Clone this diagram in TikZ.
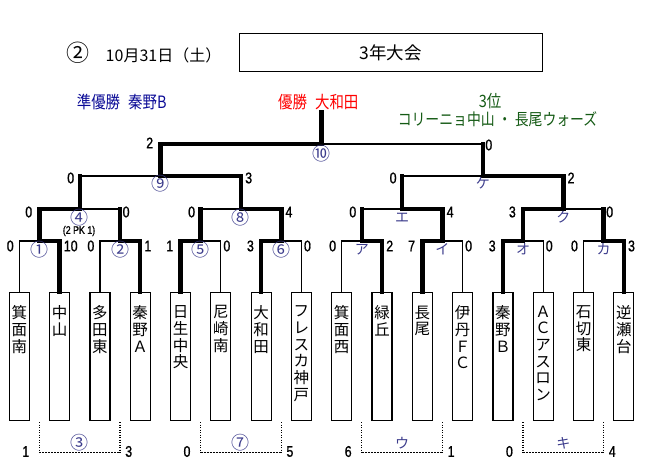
\documentclass[tikz,border=0pt]{standalone}
\usepackage{fontspec}
\usepackage{tikz}
\newfontfamily\jp{Noto Sans CJK JP}
\newfontfamily\jpn[FakeStretch=0.85]{Noto Sans CJK JP}
\newfontfamily\num[FakeStretch=0.8,FakeBold=1]{Liberation Sans}
\definecolor{navyc}{RGB}{10,10,150}
\definecolor{greenc}{RGB}{20,90,20}
\definecolor{labc}{RGB}{60,60,140}

\begin{document}
\begin{tikzpicture}[x=1pt,y=-1pt,
  box/.style={draw,line width=1.2pt,minimum width=20pt,minimum height=128pt,inner sep=0pt,anchor=north},
  team/.style={font=\jp\fontsize{15.5}{16.7}\selectfont,align=center,inner sep=0pt,anchor=north},
  winline/.style={line width=4.5pt,line cap=rect},
  loseline/.style={line width=1.2pt},
  scL/.style={font=\num\fontsize{15.5}{15.5}\selectfont,anchor=east,inner sep=0pt,xshift=-5pt,yshift=-3pt},
  scR/.style={font=\num\fontsize{15.5}{15.5}\selectfont,anchor=west,inner sep=0pt,xshift=2pt,yshift=-3pt},
  mlab/.style={font=\jp\fontsize{18}{18}\selectfont,text=labc,inner sep=0pt,yshift=-8.5pt},
  klab/.style={font=\jp\fontsize{14}{14}\selectfont,text=labc,inner sep=0pt,yshift=-8.5pt},
  cdots/.style={line width=1.2pt,dash pattern=on 1pt off 1.5pt},
  cdash/.style={line width=1.5pt,dash pattern=on 2pt off 1pt}]
  \useasboundingbox (0,0) rectangle (647,465);
  %\draw[step=10,gray,very thin] (0,0) grid (647,465);

  % header
  \node[font=\jp\fontsize{16}{16}\selectfont] (date) at (144,52.5) {{\fontsize{23}{16}\selectfont ②}\hspace{16pt}10月31日（土）};
  \node[draw,line width=1.2pt,minimum width=303pt,minimum height=38.4pt,inner sep=0pt,
        font=\jp\fontsize{17.5}{17.5}\selectfont] (title) at (390.8,52.5) {3年大会};
  \node[font=\jpn\fontsize{17}{17}\selectfont,text=navyc] (second) at (121.7,102) {準優勝\hspace{8pt}秦野B};
  \node[font=\jpn\fontsize{17}{17}\selectfont,text=red] (first) at (318.3,102) {優勝\hspace{8pt}大和田};
  \node[font=\jpn\fontsize{17}{17}\selectfont,text=greenc] (third) at (490,101) {3位};
  \node[font=\jpn\fontsize{16.3}{16.3}\selectfont,text=greenc] (thirds) at (497.5,119.5) {コリーニョ中山 ・ 長尾ウォーズ};

  % team boxes
  \node[box] (b1) at (19.3,292) {};
  \node[box] (b2) at (59.6,292) {};
  \node[box] (b3) at (99.9,292) {};
  \node[box] (b4) at (140.2,292) {};
  \node[box] (b5) at (180.5,292) {};
  \node[box] (b6) at (220.8,292) {};
  \node[box] (b7) at (261.1,292) {};
  \node[box] (b8) at (301.4,292) {};
  \node[box] (b9) at (341.7,292) {};
  \node[box] (b10) at (382.0,292) {};
  \node[box] (b11) at (422.3,292) {};
  \node[box] (b12) at (462.6,292) {};
  \node[box] (b13) at (502.9,292) {};
  \node[box] (b14) at (543.2,292) {};
  \node[box] (b15) at (583.5,292) {};
  \node[box] (b16) at (623.8,292) {};

  \node[team] (n1) at (19.3,305.5) {箕\\面\\南};
  \node[team] (n2) at (59.6,305.5) {中\\山};
  \node[team] (n3) at (99.9,305.5) {多\\田\\東};
  \node[team] (n4) at (140.2,305.5) {秦\\野\\Ａ};
  \node[team] (n5) at (180.5,305.5) {日\\生\\中\\央};
  \node[team] (n6) at (220.8,305.5) {尼\\崎\\南};
  \node[team] (n7) at (261.1,305.5) {大\\和\\田};
  \node[team] (n8) at (301.4,305.5) {フ\\レ\\ス\\カ\\神\\戸};
  \node[team] (n9) at (341.7,305.5) {箕\\面\\西};
  \node[team] (n10) at (382.0,305.5) {緑\\丘};
  \node[team] (n11) at (422.3,305.5) {長\\尾};
  \node[team] (n12) at (462.6,305.5) {伊\\丹\\Ｆ\\Ｃ};
  \node[team] (n13) at (502.9,305.5) {秦\\野\\Ｂ};
  \node[team] (n14) at (543.2,305.5) {Ａ\\Ｃ\\ア\\ス\\ロ\\ン};
  \node[team] (n15) at (583.5,305.5) {石\\切\\東};
  \node[team] (n16) at (623.8,305.5) {逆\\瀬\\台};

  % match points
  \coordinate (m1) at (39.45,241);
  \coordinate (m2) at (120.05,241);
  \coordinate (m3) at (200.65,241);
  \coordinate (m4) at (281.25,241);
  \coordinate (m5) at (361.85,241);
  \coordinate (m6) at (442.45,241);
  \coordinate (m7) at (523.05,241);
  \coordinate (m8) at (603.65,241);
  \coordinate (m9) at (79.75,209);
  \coordinate (m10) at (240.95,209);
  \coordinate (m11) at (402.15,209);
  \coordinate (m12) at (563.35,209);
  \coordinate (m13) at (160.35,176);
  \coordinate (m14) at (482.75,176);
  \coordinate (m15) at (321.55,144);
  \coordinate (top) at (321.55,112);

  % first round
  \draw[loseline] (b1.north) |- node[scL,yshift=-2pt]{0} (m1);
  \draw[winline] (b2.north) |- node[scR,yshift=-2pt]{10} (m1);
  \draw[loseline] (b3.north) |- node[scL,yshift=-2pt]{0} (m2);
  \draw[winline] (b4.north) |- node[scR,yshift=-2pt]{1} (m2);
  \draw[winline] (b5.north) |- node[scL,yshift=-2pt]{1} (m3);
  \draw[loseline] (b6.north) |- node[scR,yshift=-2pt]{0} (m3);
  \draw[winline] (b7.north) |- node[scL,yshift=-2pt]{3} (m4);
  \draw[loseline] (b8.north) |- node[scR,yshift=-2pt]{0} (m4);
  \draw[loseline] (b9.north) |- node[scL,yshift=-2pt]{0} (m5);
  \draw[winline] (b10.north) |- node[scR,yshift=-2pt]{2} (m5);
  \draw[winline] (b11.north) |- node[scL,yshift=-2pt]{7} (m6);
  \draw[loseline] (b12.north) |- node[scR,yshift=-2pt]{0} (m6);
  \draw[winline] (b13.north) |- node[scL,yshift=-2pt]{3} (m7);
  \draw[loseline] (b14.north) |- node[scR,yshift=-2pt]{0} (m7);
  \draw[loseline] (b15.north) |- node[scL,yshift=-2pt]{0} (m8);
  \draw[winline] (b16.north) |- node[scR,yshift=-2pt]{3} (m8);

  % second round
  \draw[winline] (m1) |- node[scL]{0} (m9);
  \draw[loseline] (m2) |- node[scR]{0} (m9);
  \draw[winline] (m2) -- (m2 |- m9);
  \draw[loseline] (m3) |- node[scL]{0} (m10);
  \draw[winline] (m3) -- (m3 |- m10);
  \draw[winline] (m4) |- node[scR]{4} (m10);
  \draw[loseline] (m5) |- node[scL]{0} (m11);
  \draw[winline] (m5) -- (m5 |- m11);
  \draw[winline] (m6) |- node[scR]{4} (m11);
  \draw[winline] (m7) |- node[scL]{3} (m12);
  \draw[loseline] (m8) |- node[scR]{0} (m12);
  \draw[winline] (m8) -- (m8 |- m12);

  % semi finals
  \draw[loseline] (m9) |- node[scL,yshift=1pt]{0} (m13);
  \draw[winline] (m9) -- (m9 |- m13);
  \draw[winline] (m10) |- node[scR,yshift=1pt]{3} (m13);
  \draw[loseline] (m11) |- node[scL,yshift=1pt]{0} (m14);
  \draw[winline] (m11) -- (m11 |- m14);
  \draw[winline] (m12) |- node[scR,yshift=1pt]{2} (m14);

  % final
  \draw[winline] (m13) |- node[scL,yshift=4pt]{2} (m15);
  \draw[loseline] (m14) |- node[scR,yshift=2pt]{0} (m15);
  \draw[winline] (m14) -- (m14 |- m15);
  \draw[winline] (m15) -- (top);

  % match labels
  \node[mlab] (l1) at (m1) {①};
  \node[mlab] (l2) at (m2) {②};
  \node[mlab] (l5) at (m3) {⑤};
  \node[mlab] (l6) at (m4) {⑥};
  \node[klab] (la) at (m5) {ア};
  \node[klab] (li) at (m6) {イ};
  \node[klab] (lo) at (m7) {オ};
  \node[klab] (lk) at (m8) {カ};
  \node[mlab] (l4) at (m9) {④};
  \node[mlab] (l8) at (m10) {⑧};
  \node[klab] (le) at (m11) {エ};
  \node[klab] (lku) at (m12) {ク};
  \node[mlab,yshift=1pt] (l9) at (m13) {⑨};
  \node[klab,yshift=1pt] (lke) at (m14) {ケ};
  \node[mlab,yshift=-1pt] (l10) at (m15) {⑩};
  \node[font=\num\fontsize{11}{11}\selectfont,inner sep=0pt] (pk) at (79,231) {(2 PK 1)};

  % losers matches
  \coordinate (q1) at (39.45,422);
  \coordinate (q2) at (120.05,422);
  \coordinate (q3) at (200.65,422);
  \coordinate (q4) at (281.25,422);
  \coordinate (q5) at (361.85,422);
  \coordinate (q6) at (442.45,422);
  \coordinate (q7) at (523.05,422);
  \coordinate (q8) at (603.65,422);
  \coordinate (r1) at (39.45,452.5);
  \coordinate (r2) at (120.05,452.5);
  \coordinate (r3) at (200.65,452.5);
  \coordinate (r4) at (281.25,452.5);
  \coordinate (r5) at (361.85,452.5);
  \coordinate (r6) at (442.45,452.5);
  \coordinate (r7) at (523.05,452.5);
  \coordinate (r8) at (603.65,452.5);

  \draw[cdots] (q1) -- (r1);
  \draw[cdots] (q2) -- (r2);
  \draw[cdash] (r1) -- node[mlab,yshift=18pt]{③} (r2);
  \draw[cdots] (q3) -- (r3);
  \draw[cdots] (q4) -- (r4);
  \draw[cdash] (r3) -- node[mlab,yshift=18pt]{⑦} (r4);
  \draw[cdots] (q5) -- (r5);
  \draw[cdots] (q6) -- (r6);
  \draw[cdash] (r5) -- node[klab,yshift=18pt]{ウ} (r6);
  \draw[cdots] (q7) -- (r7);
  \draw[cdots] (q8) -- (r8);
  \draw[cdash] (r7) -- node[klab,yshift=18pt]{キ} (r8);

  \node[scL,xshift=-5pt,yshift=4pt] (s3a) at (r1) {1};
  \node[scR,xshift=3pt,yshift=4pt] (s3b) at (r2) {3};
  \node[scL,xshift=-5pt,yshift=4pt] (s7a) at (r3) {0};
  \node[scR,xshift=3pt,yshift=4pt] (s7b) at (r4) {5};
  \node[scL,xshift=-5pt,yshift=4pt] (sua) at (r5) {6};
  \node[scR,xshift=3pt,yshift=4pt] (sub) at (r6) {1};
  \node[scL,xshift=-5pt,yshift=4pt] (ska) at (r7) {0};
  \node[scR,xshift=3pt,yshift=4pt] (skb) at (r8) {4};
\end{tikzpicture}
\end{document}
